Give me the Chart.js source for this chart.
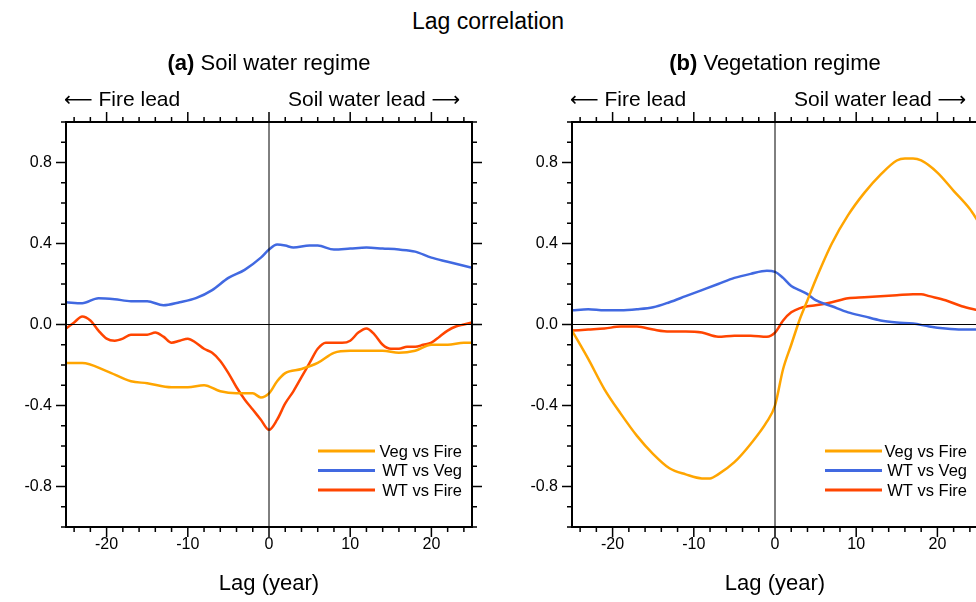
<!DOCTYPE html>
<html>
<head>
<meta charset="utf-8">
<script src="https://cdn.jsdelivr.net/npm/chart.js@4"></script>
<style>
body { margin:0; width:976px; height:602px; overflow:hidden; background:#fff; font-family:"Liberation Sans", Arial, sans-serif; position:relative; }
.panel { position:absolute; top:0; width:500px; height:602px; }
.txt { position:absolute; white-space:nowrap; color:#000; }
.arr { font-family:"DejaVu Sans"; font-size:20px; }
</style>
</head>
<body>
<div class="txt" style="left:0;width:976px;text-align:center;top:8px;font-size:23px;">Lag correlation</div>

<div class="panel" style="left:0"><canvas id="chartA" width="500" height="602"></canvas></div>
<div class="panel" style="left:506px"><canvas id="chartB" width="500" height="602"></canvas></div>

<div class="txt" style="left:66px;width:406px;text-align:center;top:50px;font-size:22px;"><b>(a)</b> Soil water regime</div>
<div class="txt" style="left:64px;top:87px;font-size:21px;"><span class="arr">&#x27F5;</span> Fire lead</div>
<div class="txt" style="left:288px;top:87px;font-size:21px;">Soil water lead <span class="arr">&#x27F6;</span></div>
<div class="txt" style="left:66px;width:406px;text-align:center;top:570px;font-size:22px;">Lag (year)</div>

<div class="txt" style="left:572px;width:406px;text-align:center;top:50px;font-size:22px;"><b>(b)</b> Vegetation regime</div>
<div class="txt" style="left:570px;top:87px;font-size:21px;"><span class="arr">&#x27F5;</span> Fire lead</div>
<div class="txt" style="left:794px;top:87px;font-size:21px;">Soil water lead <span class="arr">&#x27F6;</span></div>
<div class="txt" style="left:572px;width:406px;text-align:center;top:570px;font-size:22px;">Lag (year)</div>

<script>
// Dados //
const seriesNames = ['Veg vs Fire', 'WT vs Veg', 'WT vs Fire'];
const seriesColors = ['#ffa500', '#4169e1', '#ff4500'];
const yTicks = [-0.8, -0.4, 0.0, 0.4, 0.8];
const xTicks = [-20, -10, 0, 10, 20];

// painel (a)
const aVegFireLag = [-25,-23,-20,-17,-15,-12,-10,-8,-6,-4,-2,-1,0,1,2,4,6,8,10,12,14,16,18,20,22,24,25];
const aVegFire = [-0.19,-0.19,-0.23,-0.28,-0.29,-0.31,-0.31,-0.30,-0.33,-0.34,-0.34,-0.36,-0.34,-0.28,-0.24,-0.22,-0.19,-0.14,-0.13,-0.13,-0.13,-0.14,-0.13,-0.10,-0.10,-0.09,-0.09];
const aWtVegLag = [-25,-23,-21,-19,-17,-15,-13,-11,-9,-7,-5,-3,-1,0,1,2,3,5,6,8,10,12,14,16,18,20,22,24,25];
const aWtVeg = [0.11,0.105,0.13,0.125,0.115,0.115,0.095,0.11,0.13,0.17,0.23,0.27,0.33,0.37,0.395,0.39,0.38,0.39,0.39,0.37,0.375,0.38,0.375,0.37,0.36,0.33,0.31,0.29,0.28];
const aWtFireLag = [-25,-24,-23,-22,-21,-20,-19,-18,-17,-16,-15,-14,-13,-12,-11,-10,-9,-8,-7,-6,-5,-4,-3,-2,-1,0,1,2,3,4,5,6,7,8,9,10,11,12,13,14,15,16,17,18,19,20,21,22,23,24,25];
const aWtFire = [-0.02,0.01,0.04,0.02,-0.03,-0.07,-0.08,-0.07,-0.05,-0.05,-0.05,-0.04,-0.06,-0.09,-0.08,-0.07,-0.09,-0.12,-0.14,-0.18,-0.24,-0.31,-0.37,-0.42,-0.47,-0.52,-0.47,-0.39,-0.33,-0.26,-0.19,-0.12,-0.09,-0.09,-0.09,-0.08,-0.04,-0.02,-0.05,-0.10,-0.12,-0.12,-0.11,-0.11,-0.10,-0.09,-0.06,-0.03,-0.01,0.00,0.01];

// painel (b)
const bVegFireLag = [-25,-23,-21,-19,-17,-15,-13,-11,-9,-8,-7,-5,-3,-1,0,1,2,3,4,5,7,9,11,13,15,16,17,18,20,22,24,25];
const bVegFire = [-0.03,-0.17,-0.32,-0.44,-0.55,-0.64,-0.71,-0.74,-0.76,-0.76,-0.74,-0.68,-0.59,-0.48,-0.40,-0.22,-0.10,0.02,0.12,0.22,0.40,0.54,0.65,0.74,0.81,0.82,0.82,0.81,0.75,0.66,0.57,0.51];
const bWtVegLag = [-25,-23,-21,-19,-17,-15,-13,-11,-9,-7,-5,-3,-1,0,1,2,3,4,5,7,9,11,13,15,17,19,21,23,25];
const bWtVeg = [0.07,0.075,0.07,0.07,0.075,0.085,0.11,0.14,0.17,0.20,0.23,0.25,0.265,0.26,0.23,0.19,0.17,0.15,0.12,0.09,0.06,0.04,0.02,0.01,0.005,-0.01,-0.02,-0.025,-0.025];
const bWtFireLag = [-25,-23,-21,-19,-17,-15,-13,-11,-9,-7,-5,-3,-1,0,1,2,3,4,5,7,9,11,13,15,17,18,19,21,23,25];
const bWtFire = [-0.03,-0.025,-0.02,-0.01,-0.01,-0.025,-0.035,-0.035,-0.04,-0.06,-0.055,-0.055,-0.06,-0.04,0.02,0.06,0.08,0.09,0.095,0.11,0.13,0.135,0.14,0.145,0.15,0.15,0.14,0.12,0.09,0.07];
//fim dos dados //

function pts(lags, vals) {
    return lags.map((l, i) => ({ x: l, y: vals[i] }));
}

// moldura, ticks para fora, linhas do zero e legenda
const ncl = {
    id: 'ncl',
    afterDraw(chart, args, opts) {
        const c = chart.ctx, a = chart.chartArea;
        const xs = chart.scales.x, ys = chart.scales.y;
        c.save();
        c.strokeStyle = '#000';
        c.lineWidth = 1;
        c.beginPath();
        c.moveTo(a.left, ys.getPixelForValue(0)); c.lineTo(a.right, ys.getPixelForValue(0));
        c.moveTo(xs.getPixelForValue(0), a.top); c.lineTo(xs.getPixelForValue(0), a.bottom);
        c.stroke();
        c.lineWidth = 2;
        c.strokeRect(a.left, a.top, a.right - a.left, a.bottom - a.top);
        c.lineWidth = 1.5;
        c.beginPath();
        for (let v = -24; v <= 24; v += 2) {
            const px = xs.getPixelForValue(v), len = v % 10 === 0 ? 10 : 5;
            c.moveTo(px, a.bottom); c.lineTo(px, a.bottom + len);
            c.moveTo(px, a.top); c.lineTo(px, a.top - len);
        }
        for (let k = -10; k <= 10; k++) {
            const py = ys.getPixelForValue(k / 10), len = k % 4 === 0 ? 10 : 5;
            c.moveTo(a.left, py); c.lineTo(a.left - len, py);
            c.moveTo(a.right, py); c.lineTo(a.right + len, py);
        }
        c.stroke();
        // legenda
        c.font = '16.5px "Liberation Sans", Arial, sans-serif';
        c.textBaseline = 'middle';
        c.textAlign = 'right';
        seriesNames.forEach((n, i) => {
            const y = 451 + i * 19.5;
            c.strokeStyle = seriesColors[i];
            c.lineWidth = 3;
            c.beginPath(); c.moveTo(opts.lx, y); c.lineTo(opts.lx + 57, y); c.stroke();
            c.fillStyle = '#000';
            c.fillText(n, opts.tx, y + 1);
        });
        c.restore();
    }
};

function makeChart(id, sets, lx, tx) {
    new Chart(document.getElementById(id), {
        type: 'line',
        data: {
            datasets: sets.map((d, i) => ({
                label: seriesNames[i],
                data: d,
                borderColor: seriesColors[i],
                borderWidth: 2.5,
                pointRadius: 0,
                cubicInterpolationMode: 'monotone',
                fill: false
            }))
        },
        options: {
            responsive: false,
            animation: false,
            layout: { padding: { top: 122, right: 28, bottom: 0, left: 0 } },
            plugins: { legend: { display: false }, tooltip: { enabled: false }, ncl: { lx: lx, tx: tx } },
            scales: {
                x: {
                    type: 'linear', min: -25, max: 25,
                    afterFit: s => { s.height = 75; },
                    afterBuildTicks: s => { s.ticks = xTicks.map(v => ({ value: v })); },
                    ticks: { color: '#000', font: { size: 16, family: '"Liberation Sans", Arial' }, padding: 8 },
                    grid: { display: false, drawTicks: false },
                    border: { display: false }
                },
                y: {
                    min: -1, max: 1,
                    afterFit: s => { s.width = 66; },
                    afterBuildTicks: s => { s.ticks = yTicks.map(v => ({ value: v })); },
                    ticks: { color: '#000', font: { size: 16, family: '"Liberation Sans", Arial' }, padding: 14,
                        callback: v => v.toFixed(1) },
                    grid: { display: false, drawTicks: false },
                    border: { display: false }
                }
            }
        },
        plugins: [ncl]
    });
}

makeChart('chartA', [pts(aVegFireLag, aVegFire), pts(aWtVegLag, aWtVeg), pts(aWtFireLag, aWtFire)], 318, 462);
makeChart('chartB', [pts(bVegFireLag, bVegFire), pts(bWtVegLag, bWtVeg), pts(bWtFireLag, bWtFire)], 319, 461);
</script>
</body>
</html>
